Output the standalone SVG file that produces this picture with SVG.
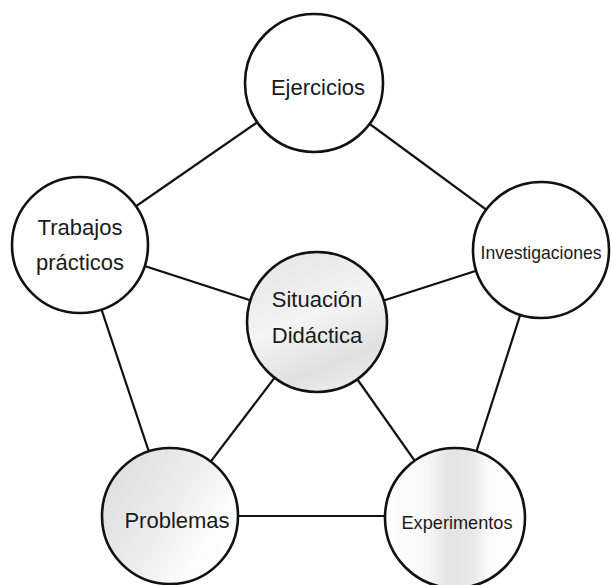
<svg xmlns="http://www.w3.org/2000/svg" width="611" height="585" viewBox="0 0 611 585">
  <style>
    .edge { stroke: #111; stroke-width: 2.2; fill: none; }
    .node { stroke: #111; stroke-width: 2.6; }
    .plain { fill: #fff; }
    .label { font-family: "Liberation Sans", Arial, sans-serif; font-size: 22px; fill: #1a1a1a; text-anchor: middle; }
    .narrow { font-size: 19px; }
  </style>
  <defs>
    <linearGradient id="shadeCenter" x1="0.3" y1="0" x2="0.7" y2="1">
      <stop offset="0" stop-color="#e6e6e6"/>
      <stop offset="0.45" stop-color="#f4f4f4"/>
      <stop offset="0.8" stop-color="#e0e0e0"/>
      <stop offset="1" stop-color="#eeeeee"/>
    </linearGradient>
    <linearGradient id="shadeLeft" x1="0" y1="0.2" x2="1" y2="0.8">
      <stop offset="0" stop-color="#dedede"/>
      <stop offset="0.45" stop-color="#ebebeb"/>
      <stop offset="0.75" stop-color="#fbfbfb"/>
      <stop offset="1" stop-color="#ffffff"/>
    </linearGradient>
    <linearGradient id="shadeStripe" x1="0" y1="0" x2="1" y2="0">
      <stop offset="0" stop-color="#ffffff"/>
      <stop offset="0.3" stop-color="#f8f8f8"/>
      <stop offset="0.45" stop-color="#e4e4e4"/>
      <stop offset="0.62" stop-color="#e8e8e8"/>
      <stop offset="0.75" stop-color="#fcfcfc"/>
      <stop offset="1" stop-color="#ffffff"/>
    </linearGradient>
  </defs>
  <rect width="611" height="585" fill="#fff"/>

  <g id="connectors">
    <line class="edge" x1="314" y1="83" x2="80" y2="245"/>
    <line class="edge" x1="314" y1="83" x2="541" y2="250"/>
    <line class="edge" x1="80" y1="245" x2="317" y2="322"/>
    <line class="edge" x1="541" y1="250" x2="317" y2="322"/>
    <line class="edge" x1="80" y1="245" x2="170" y2="515"/>
    <line class="edge" x1="541" y1="250" x2="455" y2="518"/>
    <line class="edge" x1="317" y1="322" x2="170" y2="515"/>
    <line class="edge" x1="317" y1="322" x2="455" y2="518"/>
    <line class="edge" x1="170" y1="516" x2="455" y2="516"/>
  </g>

  <g id="ejercicios">
    <circle class="node plain" cx="314" cy="83" r="69"/>
    <text class="label" x="318" y="95">Ejercicios</text>
  </g>

  <g id="trabajos-practicos">
    <circle class="node plain" cx="80" cy="245" r="68"/>
    <text class="label" x="80" y="235">Trabajos</text>
    <text class="label" x="80" y="270">prácticos</text>
  </g>

  <g id="investigaciones">
    <circle class="node plain" cx="541" cy="250" r="68"/>
    <text class="label narrow" x="541" y="259" textLength="121" lengthAdjust="spacingAndGlyphs">Investigaciones</text>
  </g>

  <g id="situacion-didactica">
    <circle class="node" cx="317" cy="322" r="70" fill="url(#shadeCenter)"/>
    <text class="label" x="317" y="307">Situación</text>
    <text class="label" x="317" y="343">Didáctica</text>
  </g>

  <g id="problemas">
    <circle class="node" cx="170" cy="516" r="68" fill="url(#shadeLeft)"/>
    <text class="label" x="177" y="528">Problemas</text>
  </g>

  <g id="experimentos">
    <circle class="node" cx="455" cy="518" r="70" fill="url(#shadeStripe)"/>
    <text class="label narrow" x="457" y="529" textLength="111" lengthAdjust="spacingAndGlyphs">Experimentos</text>
  </g>
</svg>
